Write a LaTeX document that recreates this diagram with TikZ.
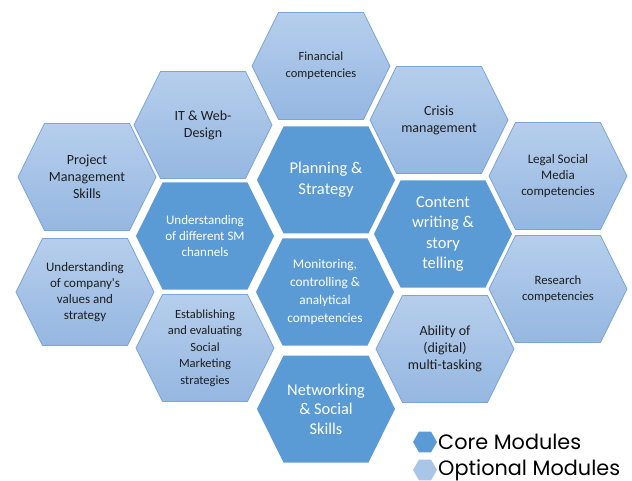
\documentclass[tikz,border=0pt]{standalone}
\usepackage{fontspec}
\setmainfont{Carlito}
\newfontfamily\legendfont{Poppins}
\usetikzlibrary{shapes.geometric}

\definecolor{coreblue}{HTML}{5B9BD5}
\definecolor{opttop}{HTML}{B6CEEC}
\definecolor{optbottom}{HTML}{95B7E1}
\definecolor{optline}{HTML}{7BA5D8}
\definecolor{legendopt}{HTML}{A9C6E9}
\definecolor{darktext}{HTML}{1E1E1E}

\tikzset{
  corecell/.style={fill=coreblue},
  optcell/.style={top color=opttop, bottom color=optbottom, draw=optline, line width=0.8pt},
  coretext/.style={text=white, align=center, inner sep=0pt},
  opttext/.style={text=darktext, align=center, inner sep=0pt},
  fs/.style 2 args={font=\fontsize{#1}{#2}\selectfont},
  legendhex/.style={regular polygon, regular polygon sides=6, minimum size=24pt, inner sep=0pt},
  legendtext/.style={anchor=west, inner sep=0pt, font=\legendfont\fontsize{20.8}{25}\selectfont, text=black}
}

% one honeycomb cell: name, x, y, cell style, text style, text
\newcommand\hexcell[6]{%
  \begin{scope}[shift={(#2,#3)}]
    \path[#4] (-69,0) -- (-42.5,-53.5) -- (42.5,-53.5) -- (69,0)
      -- (42.5,53.5) -- (-42.5,53.5) -- cycle;
    \node[#5] (#1) at (0,0) {#6};
  \end{scope}}

\begin{document}
\begin{tikzpicture}[x=1pt, y=-1pt]
  \useasboundingbox (0,0) rectangle (632,481);

  % optional modules
  \hexcell{fin}{321}{66}{optcell}{opttext, fs={12.5}{17}}{Financial\\competencies}
  \hexcell{itweb}{203}{125}{optcell}{opttext, fs={14}{17}}{IT \& Web-\\Design}
  \hexcell{crisis}{439}{120}{optcell}{opttext, fs={14}{17}}{Crisis\\management}
  \hexcell{pm}{87}{177}{optcell}{opttext, fs={14}{17}}{Project\\Management\\Skills}
  \hexcell{legal}{558}{176}{optcell}{opttext, fs={13}{16}}{Legal Social\\Media\\competencies}
  \hexcell{values}{85}{292}{optcell}{opttext, fs={13}{16}}{Understanding\\of company\textquotesingle s\\values and\\strategy}
  \hexcell{research}{558}{289}{optcell}{opttext, fs={12.7}{16}}{Research\\competencies}
  \hexcell{estab}{205}{348}{optcell}{opttext, fs={12.5}{16.5}}{Establishing\\and evaluating\\Social\\Marketing\\strategies}
  \hexcell{multi}{445}{349}{optcell}{opttext, fs={14}{17}}{Ability of\\(digital)\\multi-tasking}

  % core modules
  \hexcell{plan}{326}{180}{corecell}{coretext, fs={16.5}{21}}{Planning \&\\Strategy}
  \hexcell{smch}{205}{236}{corecell}{coretext, fs={13}{16}}{Understanding\\of different SM\\channels}
  \hexcell{content}{443}{234}{corecell}{coretext, fs={16.5}{20.5}}{Content\\writing \&\\story\\telling}
  \hexcell{monitor}{325}{292}{corecell}{coretext, fs={13.3}{17.7}}{Monitoring,\\controlling \&\\analytical\\competencies}
  \hexcell{network}{326}{409}{corecell}{coretext, fs={16.4}{19.5}}{Networking\\\& Social\\Skills}

  % legend
  \node[legendhex, fill=coreblue] (corekey) at (425,442) {};
  \node[legendtext] (corelabel) at (438,442) {Core Modules};
  \node[legendhex, fill=legendopt] (optkey) at (425,470) {};
  \node[legendtext] (optlabel) at (438,470) {Optional Modules};
\end{tikzpicture}
\end{document}
